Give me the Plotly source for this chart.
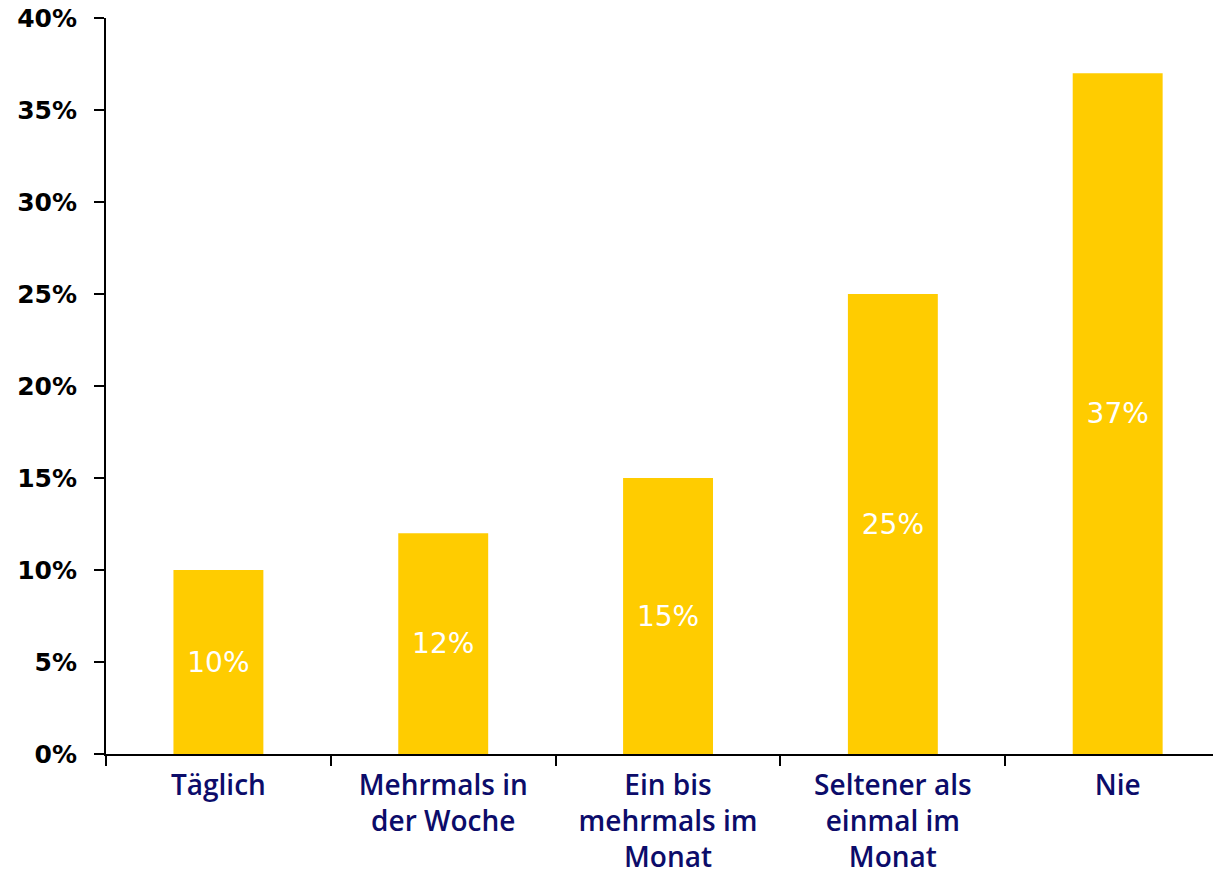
import plotly.graph_objects as go

categories = ["Täglich", "Mehrmals in<br>der Woche", "Ein bis<br>mehrmals im<br>Monat",
              "Seltener als<br>einmal im<br>Monat", "Nie"]
values = [10, 12, 15, 25, 37]
value_labels = [f"{v}%" for v in values]
y_ticks = [0, 5, 10, 15, 20, 25, 30, 35, 40]
y_tick_labels = [f"{v}%" for v in y_ticks]

fig = go.Figure(go.Bar(
    x=list(range(len(categories))), y=values,
    marker=dict(color="#FFCC00", line=dict(width=0)),
    text=value_labels, textposition="inside", insidetextanchor="middle",
    textangle=0,
    textfont=dict(family="DejaVu Sans", size=28, color="white"),
    constraintext="none", hoverinfo="skip",
))

fig.update_layout(
    width=1213, height=874,
    margin=dict(l=106, r=0, t=18, b=120),
    paper_bgcolor="white", plot_bgcolor="white",
    bargap=0.6, showlegend=False,
)
fig.update_xaxes(
    tickmode="array", tickvals=list(range(len(categories))), ticktext=categories,
    range=[-0.5, 4.424], showgrid=False, zeroline=False,
    showline=True, linecolor="black", linewidth=2,
    ticks="", automargin=False, ticklabelstandoff=5,
    tickfont=dict(family="Open Sans", size=28, color="#0C0C6A", weight=600),
    minor=dict(tickvals=[-0.5, 0.5, 1.5, 2.5, 3.5], ticks="outside",
               ticklen=10, tickwidth=2, tickcolor="black"),
)
fig.update_yaxes(
    range=[0, 40], tickmode="array", tickvals=y_ticks, ticktext=y_tick_labels,
    showgrid=False, zeroline=False, automargin=False,
    showline=True, linecolor="black", linewidth=2,
    ticks="outside", ticklen=10, tickwidth=2, tickcolor="black",
    ticklabelstandoff=12,
    tickfont=dict(family="DejaVu Sans", size=25, color="black", weight="bold"),
)

fig.write_html("out.html", config={"displayModeBar": False},
               post_script="document.body.style.margin='0';document.body.style.overflow='hidden';")
